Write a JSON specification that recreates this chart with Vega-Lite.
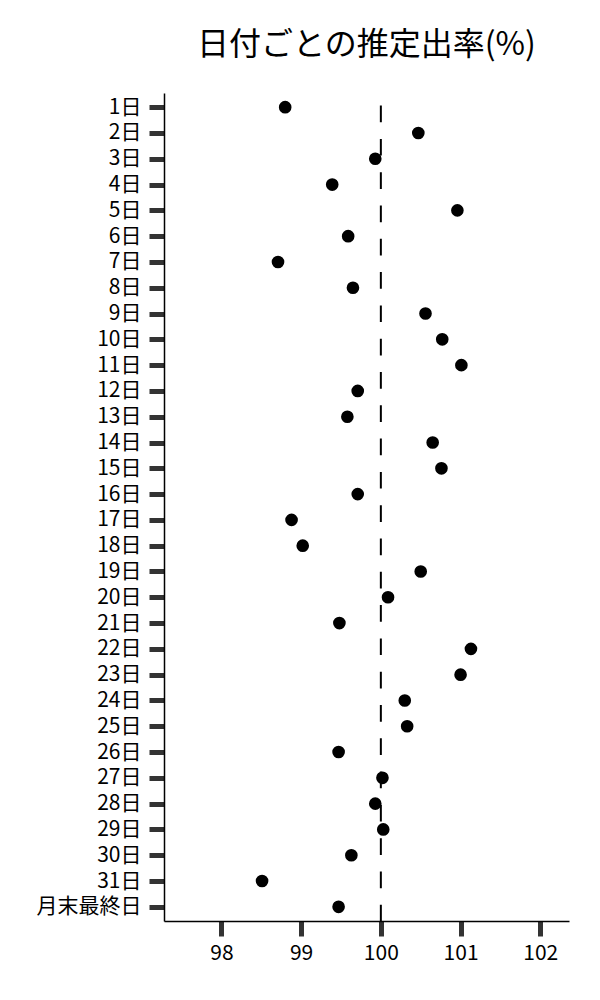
{
  "$schema": "https://vega.github.io/schema/vega-lite/v6.json",
  "autosize": {"type": "none"},
  "padding": {"left": 164, "top": 93, "right": 31, "bottom": 79},
  "width": 405,
  "height": 828,
  "title": {"text": "日付ごとの推定出率(%)", "fontSize": 32, "fontWeight": "normal", "font": "Noto Sans CJK JP", "color": "#000", "anchor": "middle", "offset": 30},
  "config": {
    "view": {"stroke": null},
    "font": "Noto Sans CJK JP",
    "axis": {"grid": false, "domainColor": "#000", "domainWidth": 1.5, "tickColor": "#333", "tickWidth": 5, "tickSize": 15, "labelFontSize": 21, "labelColor": "#000", "title": null, "labelFont": "Noto Sans CJK JP"}
  },
  "data": {
    "values": [
      {"day": "1日", "rate": 98.80},
      {"day": "2日", "rate": 100.47},
      {"day": "3日", "rate": 99.93},
      {"day": "4日", "rate": 99.39},
      {"day": "5日", "rate": 100.96},
      {"day": "6日", "rate": 99.59},
      {"day": "7日", "rate": 98.71},
      {"day": "8日", "rate": 99.65},
      {"day": "9日", "rate": 100.56},
      {"day": "10日", "rate": 100.77},
      {"day": "11日", "rate": 101.01},
      {"day": "12日", "rate": 99.71},
      {"day": "13日", "rate": 99.58},
      {"day": "14日", "rate": 100.65},
      {"day": "15日", "rate": 100.76},
      {"day": "16日", "rate": 99.71},
      {"day": "17日", "rate": 98.88},
      {"day": "18日", "rate": 99.02},
      {"day": "19日", "rate": 100.50},
      {"day": "20日", "rate": 100.09},
      {"day": "21日", "rate": 99.48},
      {"day": "22日", "rate": 101.13},
      {"day": "23日", "rate": 101.00},
      {"day": "24日", "rate": 100.30},
      {"day": "25日", "rate": 100.33},
      {"day": "26日", "rate": 99.47},
      {"day": "27日", "rate": 100.02},
      {"day": "28日", "rate": 99.93},
      {"day": "29日", "rate": 100.03},
      {"day": "30日", "rate": 99.63},
      {"day": "31日", "rate": 98.51},
      {"day": "月末最終日", "rate": 99.47}
    ]
  },
  "layer": [
    {
      "mark": {"type": "rule", "color": "#000", "strokeWidth": 2, "strokeDash": [16.7, 16.6], "strokeDashOffset": 20.7},
      "data": {"values": [{"ref": 100}]},
      "encoding": {
        "x": {"field": "ref", "type": "quantitative"}
      }
    },
    {
      "mark": {"type": "circle", "color": "#000", "opacity": 1, "size": 160},
      "encoding": {
        "y": {"field": "day", "type": "ordinal", "sort": null, "scale": {"type": "point", "padding": 0.55}, "axis": {"labelPadding": 8}},
        "x": {"field": "rate", "type": "quantitative", "scale": {"domain": [97.28, 102.36], "nice": false, "zero": false}, "axis": {"values": [98, 99, 100, 101, 102], "format": "d", "labelPadding": 6}}
      }
    }
  ]
}
